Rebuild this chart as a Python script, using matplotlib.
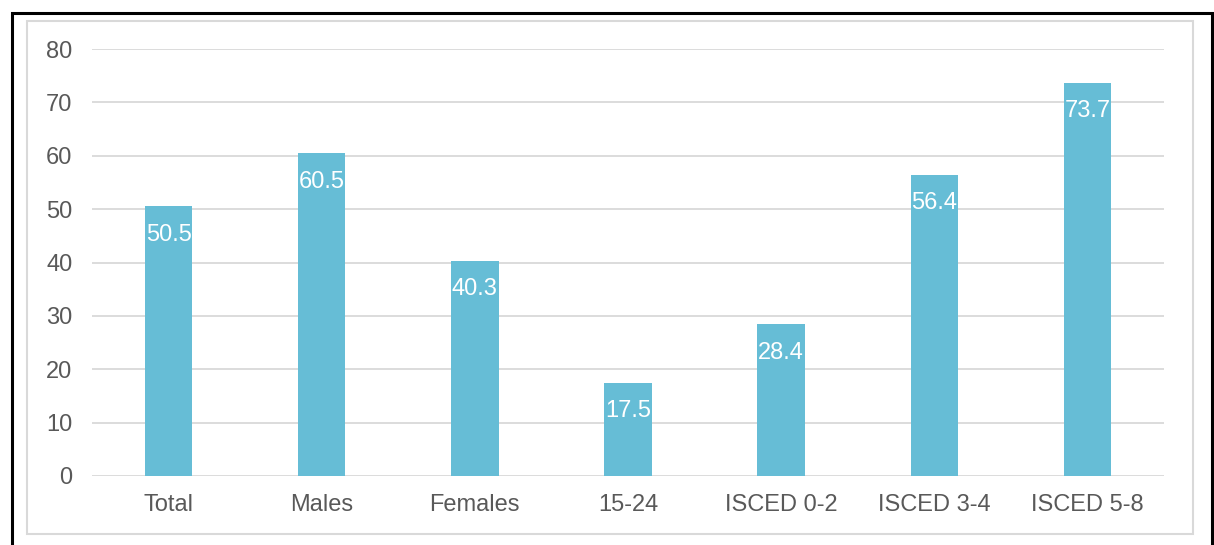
import matplotlib.pyplot as plt
from matplotlib.patches import Rectangle

categories = ["Total", "Males", "Females", "15-24", "ISCED 0-2", "ISCED 3-4", "ISCED 5-8"]
values = [50.5, 60.5, 40.3, 17.5, 28.4, 56.4, 73.7]
yticks = [0, 10, 20, 30, 40, 50, 60, 70, 80]

W, H = 1214, 545
plt.rcParams['font.family'] = ['Liberation Sans', 'DejaVu Sans']

fig = plt.figure(figsize=(W / 100, H / 100), dpi=100)

# outer black border and inner grey frame (pixel coords -> figure fraction)
def px_rect(x0, y0, x1, y1, **kw):
    r = Rectangle((x0 / W, 1 - y1 / H), (x1 - x0) / W, (y1 - y0) / H,
                  transform=fig.transFigure, fill=False, **kw)
    fig.add_artist(r)

px_rect(11.5, 12.5, 1211.5, 560, edgecolor="black", linewidth=2.2)
px_rect(27, 21, 1193, 534, edgecolor="#D9D9D9", linewidth=1.5)

ax = fig.add_axes([92 / W, 1 - 476 / H, (1164 - 92) / W, (476 - 49) / H])
x = range(len(categories))
ax.bar(x, values, width=0.31, color="#66BDD6", zorder=3)
ax.set_xlim(-0.5, len(categories) - 0.5)
ax.set_ylim(0, 80)
ax.set_yticks(yticks)
ax.set_xticks(list(x))
ax.set_xticklabels(categories)
ax.grid(axis="y", color="#D9D9D9", linewidth=1.3, zorder=0)
for s in ax.spines.values():
    s.set_visible(False)
ax.tick_params(length=0, labelsize=17, colors="#595959", pad=14)
ax.tick_params(axis="x", pad=13)

for i, v in enumerate(values):
    ax.annotate(f"{v}", (i, v), xytext=(0, -20.5), textcoords="offset points",
                ha="center", va="center", color="white", fontsize=17, zorder=4)

fig.savefig("out.png", dpi=100)
